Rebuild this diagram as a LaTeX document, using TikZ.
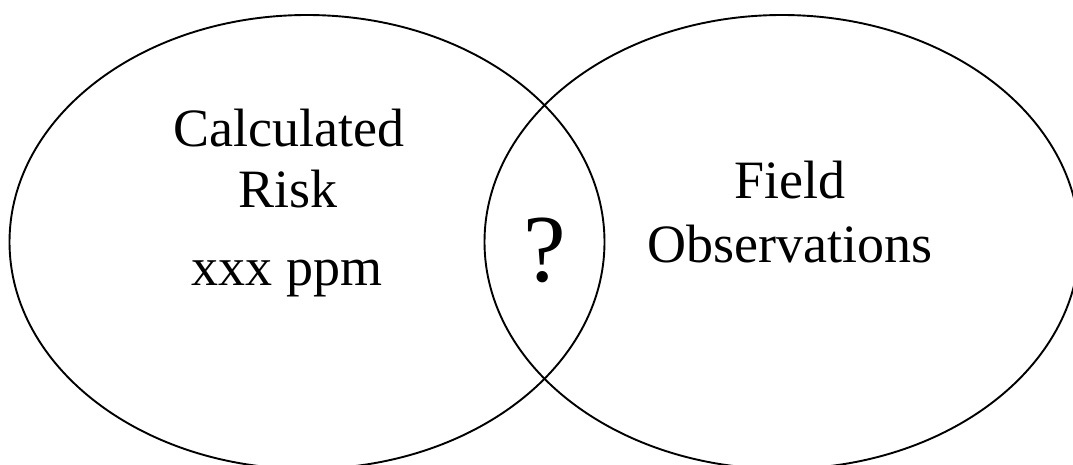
\documentclass[tikz,border=0pt]{standalone}
\usepackage{fontspec}
\setmainfont{Liberation Serif}
\usetikzlibrary{positioning}

\begin{document}
\begin{tikzpicture}[x=1pt,y=-1pt,
    ring/.style={line width=1.9pt},
    label/.style={anchor=base,inner sep=0pt,font=\fontsize{54}{61}\selectfont}]
  \useasboundingbox (0,0) rectangle (1073,464);
  \clip (0,0) rectangle (1073,464);
  \draw[ring] (307,242) ellipse (297.5 and 227);
  \draw[ring] (782,242) ellipse (297.5 and 227);
  \node[label] (calc) at (289,146) {Calculated};
  \node[label] (risk) at (288,207) {Risk};
  \node[label] (ppm) at (287,285) {xxx ppm};
  \node[label] (field) at (790,198) {Field};
  \node[label] (obs) at (790,262) {Observations};
  \node[label,font=\fontsize{96}{100}\selectfont] (q) at (545,281) {?};
\end{tikzpicture}
\end{document}
